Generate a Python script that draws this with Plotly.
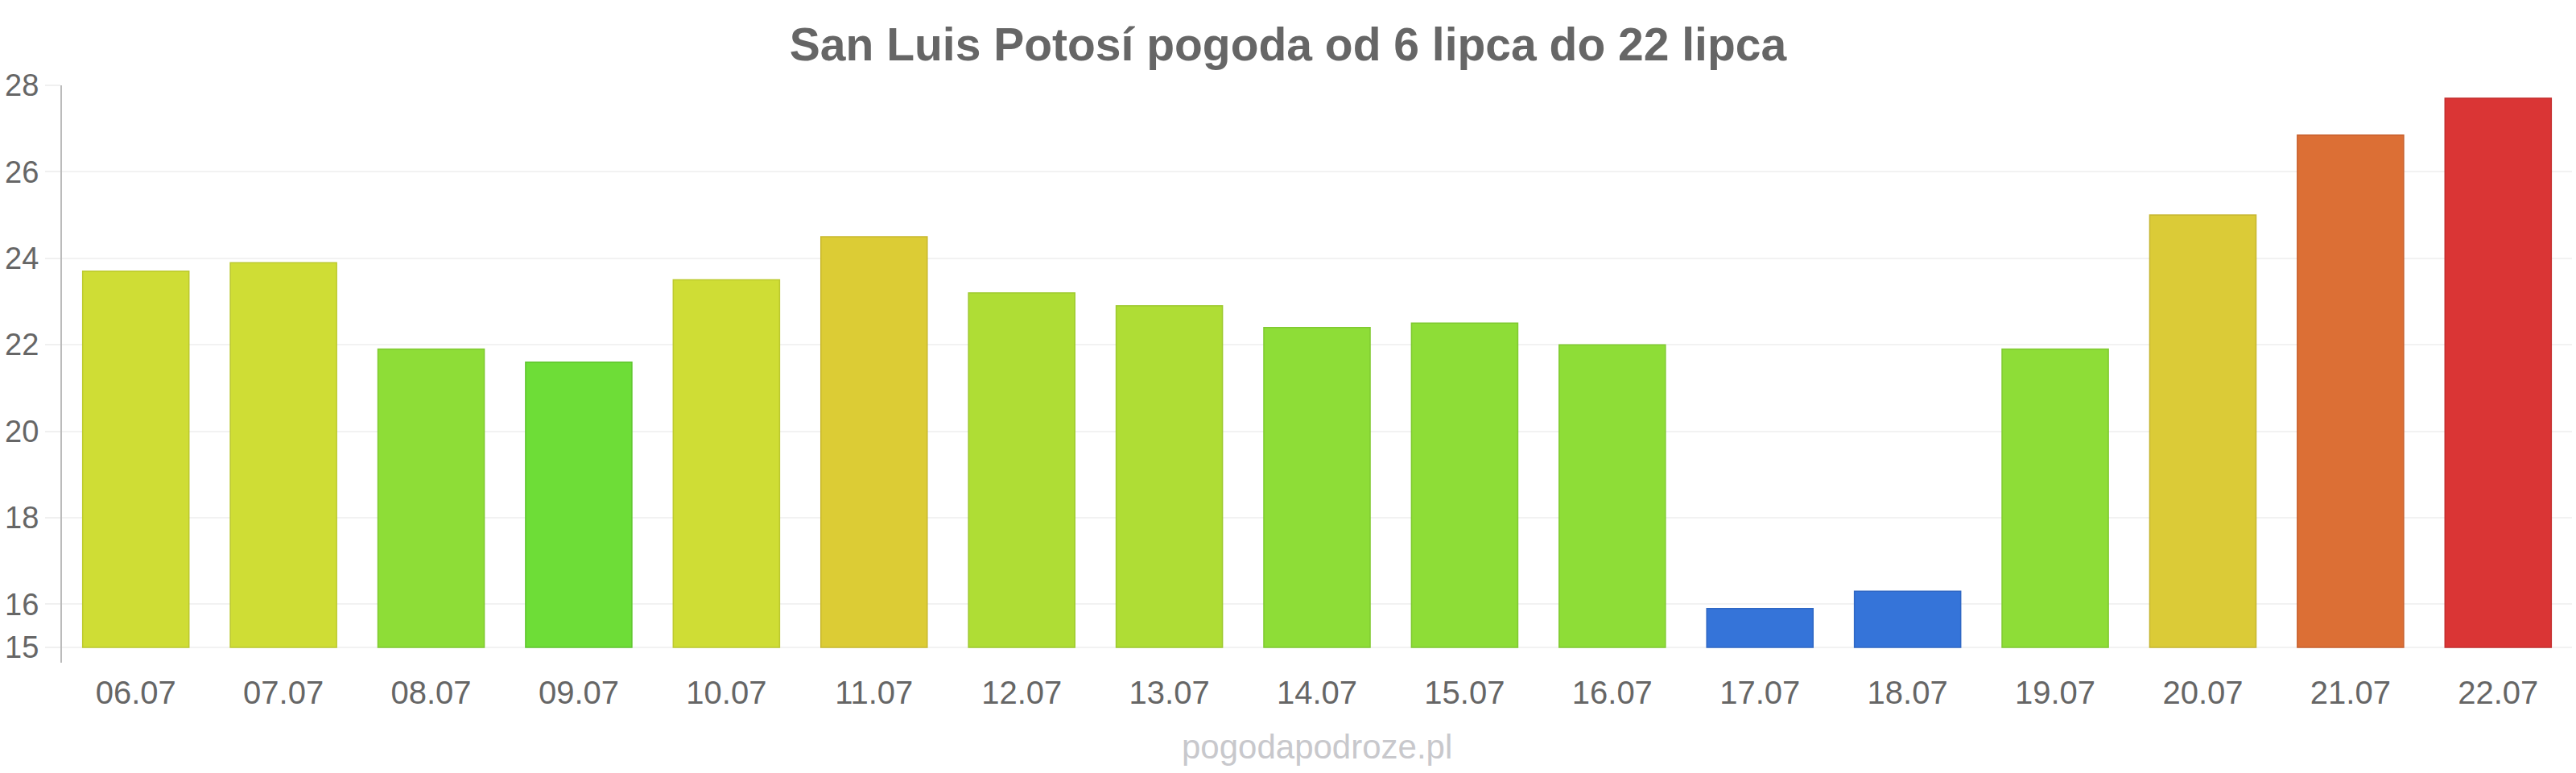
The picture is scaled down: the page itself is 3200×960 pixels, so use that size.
import numpy as np
import plotly.graph_objects as go

dates = ["06.07", "07.07", "08.07", "09.07", "10.07", "11.07", "12.07", "13.07", "14.07",
         "15.07", "16.07", "17.07", "18.07", "19.07", "20.07", "21.07", "22.07"]
temps = [23.7, 23.9, 21.9, 21.6, 23.5, 24.5, 23.2, 22.9, 22.4,
         22.5, 22.0, 15.9, 16.3, 21.9, 25.0, 26.85, 27.7]
bar_colors = ["#cfdd35", "#cfdd35", "#8edd37", "#6edd37", "#cfdd35", "#dccc35", "#afdd35", "#afdd35", "#8edd37",
              "#8edd37", "#8edd37", "#3574d9", "#3574d9", "#8edd37", "#dbcb37", "#dc6f35", "#da3535"]
line_colors = ["#bcc92e", "#bcc92e", "#7fc930", "#5fc52f", "#bcc92e", "#c8b82e", "#9dc92e", "#9dc92e", "#7fc930",
               "#7fc930", "#7fc930", "#2f67c4", "#2f67c4", "#7fc930", "#c6b630", "#c7602e", "#c42e2e"]
y_ticks = [15, 16, 18, 20, 22, 24, 26, 28]
base_value = 15
title_text = "San Luis Potosí pogoda od 6 lipca do 22 lipca"
footer_text = "pogodapodroze.pl"

heights = np.array(temps) - base_value

fig = go.Figure()
fig.add_trace(go.Bar(
    x=dates,
    y=heights,
    base=base_value,
    marker=dict(color=bar_colors, line=dict(color=line_colors, width=1.5)),
    customdata=temps,
    hovertemplate="%{x}: %{customdata}<extra></extra>",
))

fig.update_layout(
    width=3200, height=960,
    paper_bgcolor="white", plot_bgcolor="white",
    margin=dict(l=77, r=5, t=106, b=137, autoexpand=False),
    bargap=0.28,
    showlegend=False,
    font=dict(family="Liberation Sans, Arial, sans-serif", color="#666666"),
    title=dict(text="<b>" + title_text + "</b>", x=0.5, xanchor="center",
               y=1 - 55 / 960, yref="container", yanchor="middle",
               font=dict(size=57, color="#666666", family="Liberation Sans, Arial, sans-serif")),
    xaxis=dict(
        showgrid=False, showline=False, zeroline=False,
        ticks="", tickfont=dict(size=40, color="#666666"),
        ticklabelstandoff=10,
    ),
    yaxis=dict(
        range=[14.646, 28.0],
        tickvals=y_ticks,
        ticktext=[str(v) for v in y_ticks],
        showgrid=True, gridcolor="#f2f2f2", gridwidth=2,
        zeroline=False,
        showline=True, linecolor="#bbbbbb", linewidth=2,
        ticks="outside", ticklen=19, tickcolor="#f0f0f0", tickwidth=2,
        tickfont=dict(size=38, color="#666666"),
    ),
    annotations=[dict(
        text=footer_text, xref="paper", yref="paper",
        x=0.5, y=-(927 - 823) / (823 - 106), xanchor="center", yanchor="middle",
        showarrow=False, font=dict(size=42, color="#c8c8cc"),
    )],
)

fig.write_html("out.html")
